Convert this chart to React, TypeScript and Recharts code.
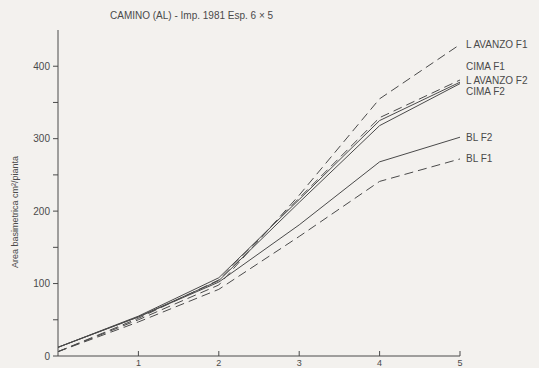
import React from 'react';
import { LineChart, Line, XAxis, YAxis } from 'recharts';

const years = [0, 1, 2, 3, 4, 5];
const lAvanzoF1 = [6, 50, 98, 222, 355, 430];
const cimaF1 = [6, 52, 105, 218, 329, 381];
const lAvanzoF2 = [12, 55, 108, 216, 325, 378];
const cimaF2 = [12, 54, 104, 212, 318, 376];
const blF2 = [12, 54, 102, 181, 268, 302];
const blF1 = [6, 47, 92, 165, 241, 272];
const xTicks = [1, 2, 3, 4, 5];
const yTicks = [0, 50, 100, 150, 200, 250, 300, 350, 400];

const data = years.map((x, i) => ({
    x,
    laf1: lAvanzoF1[i],
    cf1: cimaF1[i],
    laf2: lAvanzoF2[i],
    cf2: cimaF2[i],
    blf2: blF2[i],
    blf1: blF1[i],
}));

const INK = '#4a4a4a';
const FONT = '"Liberation Sans", Arial, sans-serif';

const series = [
    { key: 'laf1', name: 'L AVANZO F1', dash: '9 5', dy: 0 },
    { key: 'cf1', name: 'CIMA F1', dash: '9 5', dy: -13 },
    { key: 'laf2', name: 'L AVANZO F2', dash: undefined, dy: -2 },
    { key: 'cf2', name: 'CIMA F2', dash: undefined, dy: 8 },
    { key: 'blf2', name: 'BL F2', dash: undefined, dy: 0 },
    { key: 'blf1', name: 'BL F1', dash: '9 5', dy: 0 },
];

const endLabel = (name: string, dy: number) => (props: any) => {
    if (props.index !== years.length - 1) return null;
    return (
        <text
            key={name}
            x={props.x + 6}
            y={props.y + dy + 3.5}
            fontSize={10}
            fontFamily={FONT}
            fill={INK}
        >
            {name}
        </text>
    );
};

const XTick = (props: any) => {
    const { x, payload } = props;
    const y = 356;
    return (
        <g>
            <line x1={x} x2={x} y1={y} y2={y - 5} stroke={INK} />
            <text x={x} y={y + 10} textAnchor="middle" fontSize={9} fontFamily={FONT} fill={INK}>
                {payload.value}
            </text>
        </g>
    );
};

const YTick = (props: any) => {
    const { y, payload } = props;
    const x = 58;
    const major = payload.value % 100 === 0;
    return (
        <g>
            <line x1={x - 5} x2={x} y1={y} y2={y} stroke={INK} />
            {major && (
                <text x={x - 8} y={y + 3.5} textAnchor="end" fontSize={10} fontFamily={FONT} fill={INK}>
                    {payload.value}
                </text>
            )}
        </g>
    );
};

export default function App() {
    return (
        <div style={{ position: 'absolute', left: 0, top: 0, width: 539, height: 368, background: '#f3f1ee' }}>
            <LineChart
                width={539}
                height={368}
                data={data}
                margin={{ top: 30, right: 79, bottom: 2, left: 48 }}
            >
                <XAxis
                    dataKey="x"
                    type="number"
                    domain={[0, 5]}
                    ticks={xTicks}
                    tickLine={false}
                    axisLine={{ stroke: INK }}
                    tick={<XTick />}
                    height={10}
                />
                <YAxis
                    type="number"
                    domain={[0, 450]}
                    ticks={yTicks}
                    tickLine={false}
                    axisLine={{ stroke: INK }}
                    tick={<YTick />}
                    width={10}
                />
                {series.map((s) => (
                    <Line
                        key={s.key}
                        dataKey={s.key}
                        type="linear"
                        stroke={INK}
                        strokeWidth={1}
                        strokeDasharray={s.dash}
                        dot={false}
                        isAnimationActive={false}
                        label={endLabel(s.name, s.dy)}
                    />
                ))}
                <text x={110} y={19} fontSize={10} fontFamily={FONT} fill={INK}>
                    CAMINO (AL) - Imp. 1981 Esp. 6 × 5
                </text>
                <text
                    x={18}
                    y={212}
                    transform="rotate(-90 18 212)"
                    textAnchor="middle"
                    fontSize={9}
                    fontFamily={FONT}
                    fill={INK}
                >
                    Area basimetrica cm²/pianta
                </text>
            </LineChart>
        </div>
    );
}
